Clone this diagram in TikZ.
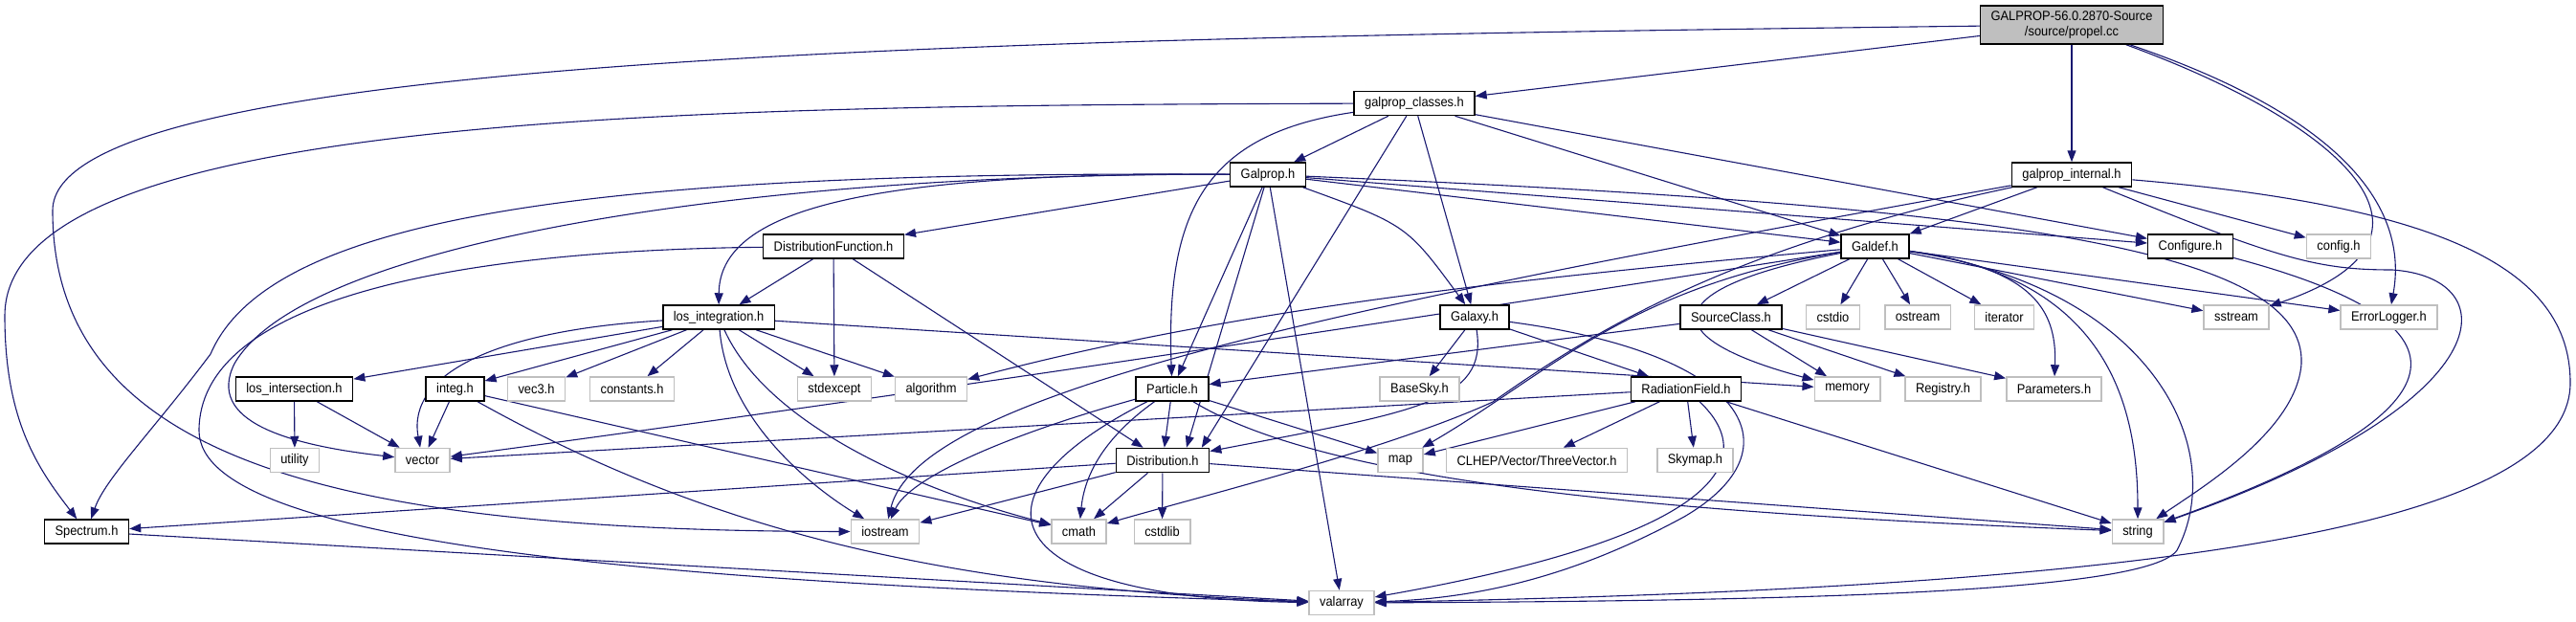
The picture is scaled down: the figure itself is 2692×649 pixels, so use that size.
\documentclass[tikz,border=0pt]{standalone}
\usepackage{fontspec}
\setmainfont{Liberation Sans}[FakeStretch=0.92]
\usepackage{tikz}
\usetikzlibrary{arrows.meta, backgrounds}
\definecolor{doxyblue}{HTML}{191970}
\definecolor{doxygray}{HTML}{BFBFBF}

\begin{document}
\begin{tikzpicture}[x=1pt, y=-1pt,
  every node/.style={font=\fontsize{14}{15.5}\selectfont, inner xsep=11pt, inner ysep=0pt, minimum height=25pt, fill=white},
  docbox/.style={draw=black, line width=1.5pt},
  extbox/.style={draw=doxygray, line width=1.5pt},
  rootbox/.style={draw=black, fill=doxygray, line width=1.5pt, align=center, minimum height=40pt},
  dep/.style={doxyblue, line width=1.1pt, -{Triangle[length=12pt, width=9pt]}}]
  \useasboundingbox (0,0) rectangle (2692,649);

  % Fichier racine
  \node[rootbox] (propel) at (2165,26) {GALPROP-56.0.2870-Source\\/source/propel.cc};

  % Entetes du projet
  \node[docbox] (gpclasses) at (1478,108) {galprop\_classes.h};
  \node[docbox] (galprop) at (1325,182.5) {Galprop.h};
  \node[docbox] (gpinternal) at (2165,182.5) {galprop\_internal.h};
  \node[docbox] (distfunc) at (871,257.5) {DistributionFunction.h};
  \node[docbox] (galdef) at (1959.5,257.5) {Galdef.h};
  \node[docbox] (configure) at (2289,257.5) {Configure.h};
  \node[docbox] (losint) at (751,331.5) {los\_integration.h};
  \node[docbox] (galaxy) at (1541,331.5) {Galaxy.h};
  \node[docbox] (sourceclass) at (1809,331.5) {SourceClass.h};
  \node[docbox] (losinter) at (307.5,406.5) {los\_intersection.h};
  \node[docbox] (integ) at (475.5,406.5) {integ.h};
  \node[docbox] (particle) at (1225,406.5) {Particle.h};
  \node[docbox] (radfield) at (1762,406.5) {RadiationField.h};
  \node[docbox] (distribution) at (1215,481) {Distribution.h};
  \node[docbox] (spectrum) at (90.5,555.5) {Spectrum.h};

  % Entetes externes
  \node[extbox] (configh) at (2444,257.5) {config.h};
  \node[extbox] (cstdio) at (1915.5,331.5) {cstdio};
  \node[extbox] (ostream) at (2004,331.5) {ostream};
  \node[extbox] (iterator) at (2094.5,331.5) {iterator};
  \node[extbox] (sstream) at (2337,331.5) {sstream};
  \node[extbox] (errlog) at (2496.5,331.5) {ErrorLogger.h};
  \node[extbox] (vecthree) at (560.5,406.5) {vec3.h};
  \node[extbox] (constants) at (660.5,406.5) {constants.h};
  \node[extbox] (stdexcept) at (872,406.5) {stdexcept};
  \node[extbox] (algorithm) at (973,406.5) {algorithm};
  \node[extbox] (basesky) at (1483.5,406.5) {BaseSky.h};
  \node[extbox] (memory) at (1930.5,406.5) {memory};
  \node[extbox] (registry) at (2030.5,406.5) {Registry.h};
  \node[extbox] (parameters) at (2146.5,406.5) {Parameters.h};
  \node[extbox] (utility) at (308,481) {utility};
  \node[extbox] (vector) at (441.5,481) {vector};
  \node[extbox] (map) at (1463.5,481) {map};
  \node[extbox] (clhep) at (1606,481) {CLHEP/Vector/ThreeVector.h};
  \node[extbox] (skymap) at (1771.5,481) {Skymap.h};
  \node[extbox] (iostream) at (925,555.5) {iostream};
  \node[extbox] (cmath) at (1127.5,555.5) {cmath};
  \node[extbox] (cstdlib) at (1214.5,555.5) {cstdlib};
  \node[extbox] (string) at (2234,555.5) {string};
  \node[extbox] (valarray) at (1402,630) {valarray};

  \begin{scope}[on background layer]
  % propel.cc
  \draw[dep] (propel) -- (gpclasses);
  \draw[dep] (propel) -- (gpinternal);
  \draw[dep] (propel) .. controls (1000,40) and (55,60) .. (55,220) .. controls (55,480) and (350,555) .. (iostream);
  \draw[dep] (propel) .. controls (2450,130) and (2580,250) .. (sstream);
  \draw[dep] (propel) .. controls (2470,130) and (2515,230) .. (errlog);

  % galprop_classes.h
  \draw[dep] (gpclasses) -- (galprop);
  \draw[dep] (gpclasses) -- (galaxy);
  \draw[dep] (gpclasses) -- (galdef);
  \draw[dep] (gpclasses) -- (configure);
  \draw[dep] (gpclasses) -- (distribution.18);
  \draw[dep] (gpclasses) .. controls (1260,140) and (1218,220) .. (particle);
  \draw[dep] (gpclasses) .. controls (700,110) and (5,120) .. (5,330) .. controls (5,440) and (40,490) .. (spectrum);

  % Galprop.h
  \draw[dep] (galprop) .. controls (900,180) and (752,220) .. (losint);
  \draw[dep] (galprop) -- (distfunc);
  \draw[dep] (galprop) -- (particle);
  \draw[dep] (galprop) -- (distribution.28);
  \draw[dep] (galprop) -- (valarray);
  \draw[dep] (galprop) .. controls (1470,235) .. (galaxy);
  \draw[dep] (galprop) -- (galdef);
  \draw[dep] (galprop) -- (configure);
  \draw[dep] (galprop) .. controls (2100,215) and (2410,260) .. (2405,380) .. controls (2400,450) and (2300,510) .. (string);
  \draw[dep] (galprop) .. controls (800,180) and (320,250) .. (245,380) .. controls (215,440) and (300,465) .. (vector);
  \draw[dep] (galprop) .. controls (600,178) and (280,230) .. (220,370) .. controls (160,450) and (110,500) .. (spectrum);

  % DistributionFunction.h
  \draw[dep] (distfunc) .. controls (450,262) and (208,320) .. (208,450) .. controls (208,570) and (700,610) .. (valarray);
  \draw[dep] (distfunc) -- (losint);
  \draw[dep] (distfunc) -- (stdexcept);
  \draw[dep] (distfunc) -- (distribution);

  % los_integration.h
  \draw[dep] (losint) -- (losinter);
  \draw[dep] (losint) -- (integ);
  \draw[dep] (losint) -- (vecthree);
  \draw[dep] (losint) -- (constants);
  \draw[dep] (losint) -- (stdexcept);
  \draw[dep] (losint) -- (algorithm);
  \draw[dep] (losint) -- (memory);
  \draw[dep] (losint) .. controls (520,345) and (425,390) .. (vector);
  \draw[dep] (losint) .. controls (760,440) and (850,510) .. (iostream);
  \draw[dep] (losint) .. controls (800,440) and (950,510) .. (cmath);

  % los_intersection.h, integ.h, Spectrum.h
  \draw[dep] (losinter) -- (utility);
  \draw[dep] (losinter) -- (vector);
  \draw[dep] (integ) -- (vector);
  \draw[dep] (integ) -- (cmath);
  \draw[dep] (integ) .. controls (750,560) and (1000,615) .. (valarray);
  \draw[dep] (spectrum) -- (valarray);

  % Particle.h
  \draw[dep] (particle) -- (distribution);
  \draw[dep] (particle) .. controls (1050,455) and (950,500) .. (iostream);
  \draw[dep] (particle) .. controls (1150,460) and (1133,500) .. (cmath);
  \draw[dep] (particle) .. controls (1000,520) and (1040,625) .. (valarray);
  \draw[dep] (particle) -- (map);
  \draw[dep] (particle) .. controls (1380,500) and (1700,535) .. (string);

  % Distribution.h
  \draw[dep] (distribution) -- (spectrum);
  \draw[dep] (distribution) -- (iostream);
  \draw[dep] (distribution) -- (cmath);
  \draw[dep] (distribution) -- (cstdlib);
  \draw[dep] (distribution) -- (string);

  % Galaxy.h
  \draw[dep] (galaxy) -- (basesky);
  \draw[dep] (galaxy) -- (radfield);
  \draw[dep] (galaxy) .. controls (1555,420) and (1480,430) .. (distribution);
  \draw[dep] (galaxy) .. controls (1830,370) and (1880,470) .. (1760,540) .. controls (1650,600) and (1550,625) .. (valarray);

  % SourceClass.h
  \draw[dep] (sourceclass) -- (particle);
  \draw[dep] (sourceclass) -- (memory);
  \draw[dep] (sourceclass) -- (registry);
  \draw[dep] (sourceclass) -- (parameters);

  % RadiationField.h
  \draw[dep] (radfield) -- (vector);
  \draw[dep] (radfield) -- (map);
  \draw[dep] (radfield) -- (clhep);
  \draw[dep] (radfield) -- (skymap);
  \draw[dep] (radfield) -- (string);
  \draw[dep] (radfield) .. controls (1840,480) and (1800,560) .. (valarray);

  % Galdef.h
  \draw[dep] (galdef) -- (sourceclass);
  \draw[dep] (galdef) -- (cstdio);
  \draw[dep] (galdef) -- (ostream);
  \draw[dep] (galdef) -- (iterator);
  \draw[dep] (galdef) -- (sstream);
  \draw[dep] (galdef) -- (errlog);
  \draw[dep] (galdef) .. controls (2120,280) and (2150,320) .. (parameters);
  \draw[dep] (galdef) .. controls (2200,290) and (2234,420) .. (string);
  \draw[dep] (galdef) .. controls (2250,300) and (2330,470) .. (2275,575) .. controls (2245,618) and (1900,628) .. (valarray);
  \draw[dep] (galdef) .. controls (1740,300) and (1720,350) .. (memory);
  \draw[dep] (galdef) .. controls (1700,300) and (1620,390) .. (map);
  \draw[dep] (galdef) .. controls (1500,330) and (900,420) .. (vector);
  \draw[dep] (galdef) .. controls (1600,290) and (1300,320) .. (algorithm);

  % galprop_internal.h
  \draw[dep] (gpinternal) -- (galdef);
  \draw[dep] (gpinternal) -- (configh);
  \draw[dep] (gpinternal) .. controls (2380,270) and (2420,282) .. (2500,282) .. controls (2620,290) and (2620,420) .. (string);
  \draw[dep] (gpinternal) .. controls (2550,215) and (2686,280) .. (2686,400) .. controls (2686,560) and (2200,615) .. (valarray);
  \draw[dep] (gpinternal) .. controls (1400,320) and (960,410) .. (iostream);
  \draw[dep] (gpinternal) .. controls (1800,260) and (1660,350) .. (1560,420) .. controls (1450,470) and (1250,520) .. (cmath);

  % Configure.h
  \draw[dep] (configure) .. controls (2600,340) and (2580,430) .. (string);
  \end{scope}
\end{tikzpicture}
\end{document}
